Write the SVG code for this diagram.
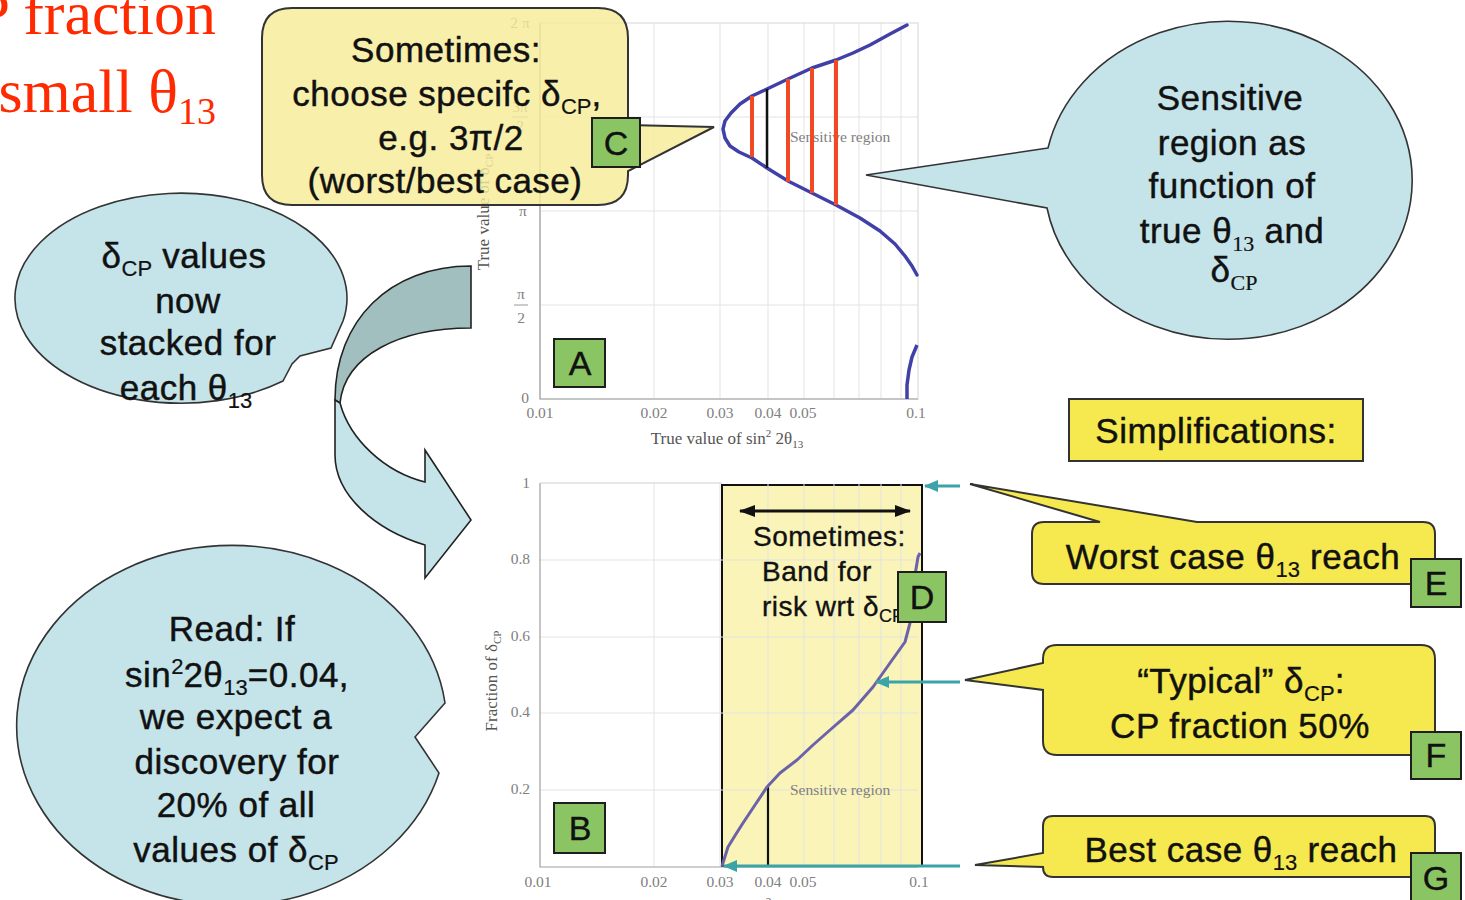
<svg xmlns="http://www.w3.org/2000/svg" width="1465" height="900" viewBox="0 0 1465 900">
<style>
.lbl{font-family:"Liberation Sans",Arial,sans-serif;font-size:35px;fill:#111;stroke:#111;stroke-width:0.45px;text-anchor:middle;letter-spacing:0.5px}
.sub{font-size:22px;letter-spacing:0;stroke-width:0.2px}
.ser{font-family:"Liberation Serif","Times New Roman",serif}
.ax{font-family:"Liberation Serif","Times New Roman",serif;font-size:15.5px;fill:#808080}
.axt{font-family:"Liberation Serif","Times New Roman",serif;font-size:17px;fill:#555}
.grid{stroke:#e3e3e3;stroke-width:1;fill:none}
.frame{stroke:#a0a0a0;stroke-width:1.2;fill:none}
.gb rect{fill:#8bc563;stroke:#1e1e1e;stroke-width:2}
.gb text{font-family:"Liberation Sans",Arial,sans-serif;font-size:34px;fill:#111;stroke:#111;stroke-width:0.4px;text-anchor:middle}
.yel{fill:#f5e94f;stroke:#333;stroke-width:2}
.blue{fill:#c4e4ea;stroke:#333;stroke-width:1.6}
.teal{stroke:#3aa4a8;stroke-width:3;fill:none;marker-end:url(#th)}
.red{stroke:#f04a24;stroke-width:4}
</style>
<defs>
<marker id="th" markerWidth="14" markerHeight="12" refX="13" refY="6" orient="auto" markerUnits="userSpaceOnUse"><path d="M0,0 L14,6 L0,12 Z" fill="#3aa4a8"/></marker>
<marker id="bh" markerWidth="16" markerHeight="12" refX="15" refY="6" orient="auto-start-reverse" markerUnits="userSpaceOnUse"><path d="M0,0 L16,6 L0,12 Z" fill="#111"/></marker>
</defs>
<rect width="1465" height="900" fill="#fff"/>

<g id="title" font-family="Liberation Serif, Times New Roman, serif" fill="#ff2a00" font-size="62" text-anchor="end">
<text x="216" y="34">CP fraction</text>
<text x="216" y="112">small θ<tspan font-size="38" dy="12">13</tspan></text>
</g>

<g id="plotA">
<g class="grid">
<line x1="654" y1="23" x2="654" y2="399"/><line x1="720" y1="23" x2="720" y2="399"/><line x1="768" y1="23" x2="768" y2="399"/><line x1="804" y1="23" x2="804" y2="399"/><line x1="834" y1="23" x2="834" y2="399"/><line x1="859" y1="23" x2="859" y2="399"/><line x1="881" y1="23" x2="881" y2="399"/><line x1="901" y1="23" x2="901" y2="399"/>
<line x1="540" y1="117" x2="918" y2="117"/><line x1="540" y1="211" x2="918" y2="211"/><line x1="540" y1="305" x2="918" y2="305"/>
</g>
<rect x="540" y="23" width="378" height="376" fill="none" stroke="#d6d6d6" stroke-width="1"/>
<path class="frame" d="M540,23 V399 H918"/>
<text class="ax" x="520" y="28" text-anchor="middle">2 π</text>
<text class="ax" x="520" y="112" text-anchor="middle">3π</text><line x1="512" y1="117" x2="528" y2="117" stroke="#999"/><text class="ax" x="520" y="131" text-anchor="middle">2</text>
<text class="ax" x="523" y="216" text-anchor="middle">π</text>
<text class="ax" x="521" y="299" text-anchor="middle">π</text><line x1="514" y1="305" x2="528" y2="305" stroke="#999"/><text class="ax" x="521" y="323" text-anchor="middle">2</text>
<text class="ax" x="525" y="403" text-anchor="middle">0</text>
<text class="ax" x="540" y="418" text-anchor="middle">0.01</text>
<text class="ax" x="654" y="418" text-anchor="middle">0.02</text>
<text class="ax" x="720" y="418" text-anchor="middle">0.03</text>
<text class="ax" x="768" y="418" text-anchor="middle">0.04</text>
<text class="ax" x="803" y="418" text-anchor="middle">0.05</text>
<text class="ax" x="916" y="418" text-anchor="middle">0.1</text>
<text class="axt" x="727" y="444" text-anchor="middle">True value of sin<tspan font-size="11" dy="-7">2</tspan><tspan dy="7"> 2θ</tspan><tspan font-size="11" dy="4">13</tspan></text>
<text class="axt" transform="translate(489,212) rotate(-90)" text-anchor="middle">True value of δ<tspan font-size="11" dy="4">CP</tspan></text>
<text class="ax" x="790" y="142" font-size="17" fill="#666">Sensitive region</text>
<polyline fill="none" stroke="#4040a8" stroke-width="3.5" stroke-linejoin="round" stroke-linecap="round" points="907,25 890,34 870,45 853,53 836,60 812,68 788,79 767,89 752,96 740,104 731,113 725,121 723,129 725,138 730,146 739,152 752,158 767,168 788,181 812,193 836,205 860,218 880,231 895,244 905,256 912,266 917,275"/>
<polyline fill="none" stroke="#4040a8" stroke-width="3.5" stroke-linejoin="round" points="917,345 912,357 909,370 907,385 907,399"/>
<line class="red" x1="752" y1="96" x2="752" y2="157" stroke="#f55a2c"/>
<line x1="767" y1="89" x2="767" y2="168" stroke="#111" stroke-width="2.5"/>
<line class="red" x1="788" y1="79" x2="788" y2="182"/>
<line class="red" x1="812" y1="68" x2="812" y2="193"/>
<line class="red" x1="836" y1="60" x2="836" y2="205" stroke="#f55a2c"/>
</g>

<g id="plotB">
<rect x="722" y="485" width="200" height="381" fill="#f9f1a6" fill-opacity="0.8" stroke="#111" stroke-width="2"/>
<g class="grid">
<line x1="654" y1="483" x2="654" y2="867"/><line x1="720" y1="483" x2="720" y2="867"/><line x1="768" y1="483" x2="768" y2="867"/><line x1="804" y1="483" x2="804" y2="867"/><line x1="834" y1="483" x2="834" y2="867"/><line x1="859" y1="483" x2="859" y2="867"/><line x1="881" y1="483" x2="881" y2="867"/><line x1="901" y1="483" x2="901" y2="867"/>
<line x1="540" y1="560" x2="918" y2="560"/><line x1="540" y1="637" x2="918" y2="637"/><line x1="540" y1="713" x2="918" y2="713"/><line x1="540" y1="790" x2="918" y2="790"/>
</g>
<path class="frame" d="M540,483 V867 H918"/>
<line x1="540" y1="483" x2="722" y2="483" stroke="#cfcfcf"/>
<text class="ax" x="530" y="488" text-anchor="end">1</text>
<text class="ax" x="530" y="564" text-anchor="end">0.8</text>
<text class="ax" x="530" y="641" text-anchor="end">0.6</text>
<text class="ax" x="530" y="717" text-anchor="end">0.4</text>
<text class="ax" x="530" y="794" text-anchor="end">0.2</text>
<text class="ax" x="538" y="887" text-anchor="middle">0.01</text>
<text class="ax" x="654" y="887" text-anchor="middle">0.02</text>
<text class="ax" x="720" y="887" text-anchor="middle">0.03</text>
<text class="ax" x="768" y="887" text-anchor="middle">0.04</text>
<text class="ax" x="803" y="887" text-anchor="middle">0.05</text>
<text class="ax" x="919" y="887" text-anchor="middle">0.1</text>
<text class="axt" x="727" y="912" text-anchor="middle">True value of sin<tspan font-size="11" dy="-7">2</tspan><tspan dy="7"> 2θ</tspan><tspan font-size="11" dy="4">13</tspan></text>
<text class="axt" transform="translate(497,681) rotate(-90)" text-anchor="middle">Fraction of δ<tspan font-size="11" dy="4">CP</tspan></text>
<text class="ax" x="790" y="795" font-size="17" fill="#666">Sensitive region</text>
<line x1="768" y1="787" x2="768" y2="867" stroke="#111" stroke-width="2.2"/>
<polyline fill="none" stroke="#6b62a8" stroke-width="3" stroke-linejoin="round" points="722,866 728,847 736,834 743,823 755,805 767,787 780,773 797,760 813,745 830,730 853,710 873,687 890,663 905,642 910,623 913,593 915,575 918,557 920,553"/>
<line x1="740" y1="511" x2="910" y2="511" stroke="#111" stroke-width="3" marker-start="url(#bh)" marker-end="url(#bh)"/>
<g class="lbl" style="font-size:28px;text-anchor:start;stroke-width:0.35px">
<text x="753" y="546">Sometimes:</text>
<text x="762" y="581">Band for</text>
<text x="762" y="616">risk wrt δ<tspan class="sub" style="font-size:18px" dy="6">CP</tspan></text>
</g>
</g>

<g id="connectors">
<path d="M471,266 C390,266 335,320 335,400 L340,403 C345,355 400,328 471,328 Z" fill="#a2bfc0" stroke="#222" stroke-width="1.6"/>
<path d="M340,403 C350,440 385,472 425,482 L425,450 L471,520 L425,578 L425,545 C375,530 335,495 335,455 L335,400 Z" fill="#c4e4ea" stroke="#222" stroke-width="1.6" stroke-linejoin="miter"/>
<line class="teal" x1="960" y1="486" x2="925" y2="486"/>
<line class="teal" x1="960" y1="682" x2="876" y2="682"/>
<line class="teal" x1="960" y1="866" x2="724" y2="866"/>
</g>

<g id="calloutC">
<path d="M292,8 H598 Q628,8 628,38 V125 L714,127 L628,171 V175 Q628,205 598,205 H292 Q262,205 262,175 V38 Q262,8 292,8 Z" fill="#f6ec98" fill-opacity="0.82" stroke="#333" stroke-width="2"/>
<text class="lbl" x="446" y="62">Sometimes:</text>
<text class="lbl" x="447" y="106">choose specifc δ<tspan class="sub" dy="8">CP</tspan><tspan dy="-8">,</tspan></text>
<text class="lbl" x="451" y="150">e.g. 3π/2</text>
<text class="lbl" x="445" y="193">(worst/best case)</text>
</g>

<g id="calloutSensitive">
<path class="blue" d="M1048,148 L866,175 L1047,208 A184 159 0 1 0 1048,148 Z"/>
<text class="lbl" x="1230" y="110">Sensitive</text>
<text class="lbl" x="1232" y="155">region as</text>
<text class="lbl" x="1232" y="198">function of</text>
<text class="lbl" x="1232" y="243">true θ<tspan class="sub ser" dy="8">13</tspan><tspan dy="-8"> and</tspan></text>
<text class="lbl" x="1234" y="282">δ<tspan class="sub ser" dy="8">CP</tspan></text>
</g>

<g id="calloutStacked">
<path class="blue" d="M343,321 L331,348 L300,356 L292,364 L283,381 A166 105 0 1 1 343,321 Z"/>
<text class="lbl" x="184" y="268">δ<tspan class="sub" dy="8">CP</tspan><tspan dy="-8"> values</tspan></text>
<text class="lbl" x="188" y="313">now</text>
<text class="lbl" x="188" y="355">stacked for</text>
<text class="lbl" x="186" y="400">each θ<tspan class="sub" dy="8">13</tspan></text>
</g>

<g id="calloutRead">
<path class="blue" d="M445,703 L415,737 L439,773 A215 180 0 1 1 445,703 Z"/>
<text class="lbl" x="232" y="641">Read: If</text>
<text class="lbl" x="237" y="687">sin<tspan class="sub" dy="-13">2</tspan><tspan dy="13">2θ</tspan><tspan class="sub" dy="8">13</tspan><tspan dy="-8">=0.04,</tspan></text>
<text class="lbl" x="236" y="729">we expect a</text>
<text class="lbl" x="237" y="774">discovery for</text>
<text class="lbl" x="236" y="817">20% of all</text>
<text class="lbl" x="236" y="862">values of δ<tspan class="sub" dy="8">CP</tspan></text>
</g>

<g id="simplifications">
<rect class="yel" x="1069" y="399" width="294" height="62"/>
<text class="lbl" x="1216" y="443">Simplifications:</text>
</g>

<g id="calloutE">
<path class="yel" d="M1044,522 H1100 L970,484 L1197,522 H1423 Q1435,522 1435,534 V572 Q1435,584 1423,584 H1044 Q1032,584 1032,572 V534 Q1032,522 1044,522 Z"/>
<text class="lbl" x="1233" y="569">Worst case θ<tspan class="sub" dy="8">13</tspan><tspan dy="-8"> reach</tspan></text>
</g>

<g id="calloutF">
<path class="yel" d="M1057,645 H1421 Q1435,645 1435,659 V741 Q1435,755 1421,755 H1057 Q1043,755 1043,741 V690 L965,680 L1043,663 V659 Q1043,645 1057,645 Z"/>
<text class="lbl" x="1241" y="693">“Typical” δ<tspan class="sub" dy="8">CP</tspan><tspan dy="-8">:</tspan></text>
<text class="lbl" x="1240" y="738">CP fraction 50%</text>
</g>

<g id="calloutG">
<path class="yel" d="M1053,816 H1425 Q1435,816 1435,826 V867 Q1435,877 1425,877 H1053 Q1043,877 1043,867 L975,865 L1043,853 V826 Q1043,816 1053,816 Z"/>
<text class="lbl" x="1241" y="862">Best case θ<tspan class="sub" dy="8">13</tspan><tspan dy="-8"> reach</tspan></text>
</g>

<g id="boxA" class="gb"><rect x="554" y="339" width="51" height="48"/><text x="580" y="375">A</text></g>
<g id="boxB" class="gb"><rect x="554" y="803" width="51" height="50"/><text x="580" y="840">B</text></g>
<g id="boxC" class="gb"><rect x="592" y="118" width="48" height="49"/><text x="616" y="155">C</text></g>
<g id="boxD" class="gb"><rect x="898" y="572" width="48" height="50"/><text x="922" y="609">D</text></g>
<g id="boxE" class="gb"><rect x="1411" y="559" width="50" height="48"/><text x="1436" y="595">E</text></g>
<g id="boxF" class="gb"><rect x="1411" y="732" width="50" height="47"/><text x="1436" y="767">F</text></g>
<g id="boxG" class="gb"><rect x="1411" y="853" width="50" height="50"/><text x="1436" y="890">G</text></g>
</svg>
